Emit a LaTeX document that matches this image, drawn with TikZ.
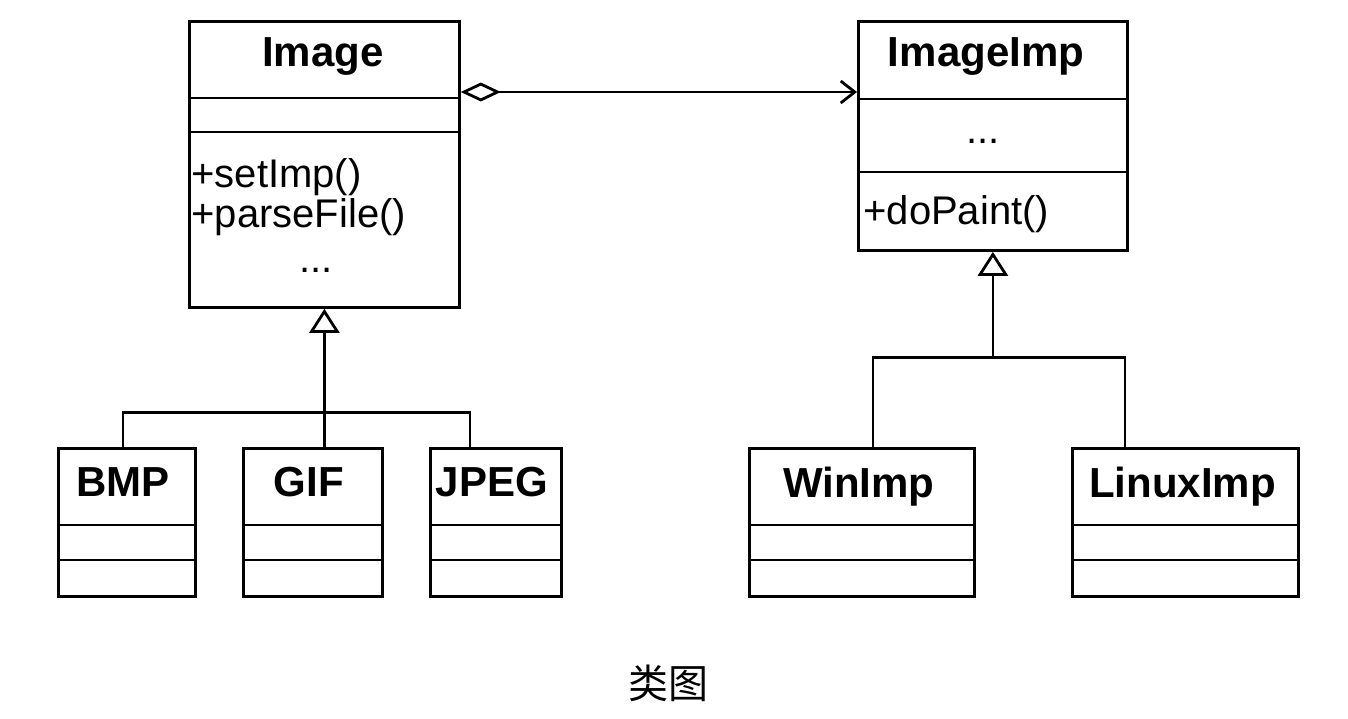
\documentclass[tikz,border=0pt]{standalone}
\usepackage{fontspec}
\setmainfont{Liberation Sans}
\newfontfamily\cjk{Noto Sans CJK SC}
\usetikzlibrary{arrows.meta,calc}
\begin{document}
\begin{tikzpicture}[x=1pt,y=-1pt,line width=2.8pt,
  cls/.style={draw,rectangle,anchor=north west,inner sep=0pt},
  ttl/.style={font=\fontsize{42}{46}\selectfont\bfseries,inner sep=0pt,anchor=base},
  mth/.style={font=\fontsize{40}{44}\selectfont,anchor=base west,inner sep=0pt},
  dots/.style={font=\fontsize{40}{44}\selectfont,anchor=base,inner sep=0pt},
  inh/.style={-{Triangle[open,length=24pt,width=30pt,fill=white]}},
  assoc/.style={{Diamond[open,length=40pt,width=19pt]}-{Straight Barb[length=14pt,width=22pt]}},
]
\useasboundingbox (0,0) rectangle (1348,718);

% Image
\node[cls,minimum width=270pt,minimum height=286pt] (image) at (188,20) {};
\draw ($(image.north west)+(0,78)$) -- ($(image.north east)+(0,78)$);
\draw ($(image.north west)+(0,112)$) -- ($(image.north east)+(0,112)$);
\node[ttl] (imageT) at (323,66) {Image};
\node[mth] (imageM1) at (190,187) {+setImp()};
\node[mth] (imageM2) at (190,227) {+parseFile()};
\node[dots] (imageD) at (316,272) {...};

% ImageImp
\node[cls,minimum width=269pt,minimum height=229pt] (imageimp) at (857,20) {};
\draw ($(imageimp.north west)+(0,79)$) -- ($(imageimp.north east)+(0,79)$);
\draw ($(imageimp.north west)+(0,152)$) -- ($(imageimp.north east)+(0,152)$);
\node[ttl] (imageimpT) at (986,66) {ImageImp};
\node[dots] (imageimpD) at (983,143) {...};
\node[mth] (imageimpM1) at (862,224) {+doPaint()};

% bottom-left classes
\foreach \n/\x/\w/\t in {bmp/57/137/BMP, gif/242/139/GIF, jpeg/429/131/JPEG}{
  \node[cls,minimum width=\w pt,minimum height=148pt] (\n) at (\x,447) {};
  \draw ($(\n.north west)+(0,78)$) -- ($(\n.north east)+(0,78)$);
  \draw ($(\n.north west)+(0,113)$) -- ($(\n.north east)+(0,113)$);
  \node[ttl] (\n T) at ($(\n.north)+(-4,49)$) {\t};
}
% bottom-right classes
\foreach \n/\x/\w/\t in {winimp/748/225/WinImp, linuximp/1071/226/LinuxImp}{
  \node[cls,minimum width=\w pt,minimum height=148pt] (\n) at (\x,447) {};
  \draw ($(\n.north west)+(0,78)$) -- ($(\n.north east)+(0,78)$);
  \draw ($(\n.north west)+(0,113)$) -- ($(\n.north east)+(0,113)$);
  \node[ttl] (\n T) at ($(\n.north)+(-3,50)$) {\t};
}

% association
\draw[assoc] ($(image.north east)+(0,72)$) -- ($(imageimp.north west)+(0,72)$);

% inheritance left
\coordinate (jl) at ($(image.south)+(0,104)$);
\coordinate (jpegc) at ($(jpeg.north west)+(41,0)$);
\draw[inh] (gif.north -| image.south) -- (image.south);
\draw (bmp.north -| 123,0) -- (jl -| 123,0) -- (jl -| jpegc) -- (jpegc);

% inheritance right
\coordinate (jr) at ($(imageimp.south)+(0,106)$);
\coordinate (winc) at ($(winimp.north west)+(125,0)$);
\coordinate (linc) at ($(linuximp.north west)+(54,0)$);
\draw[inh] (jr) -- (imageimp.south);
\draw (winc) -- (jr -| winc) -- (jr -| linc) -- (linc);

% caption
\node[font=\cjk\fontsize{40}{44}\selectfont,inner sep=0pt] (cap) at (668,683) {类图};
\end{tikzpicture}
\end{document}
